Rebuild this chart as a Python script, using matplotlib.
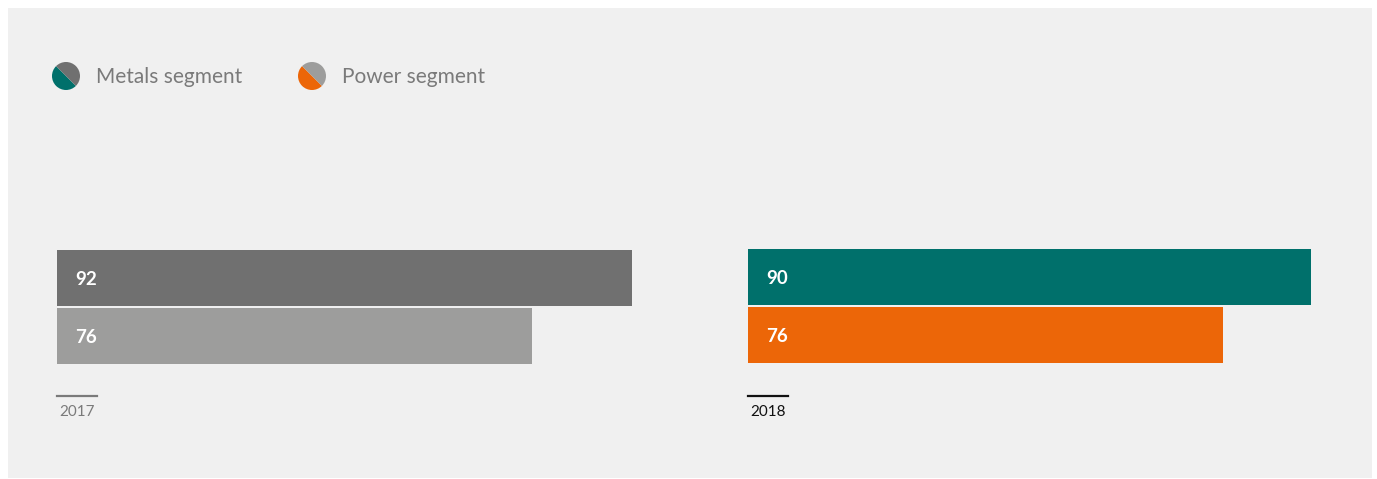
import matplotlib.pyplot as plt
from matplotlib.patches import Rectangle, Wedge
from matplotlib.lines import Line2D

# data
anos = ["2017", "2018"]
segmentos = ["Metals segment", "Power segment"]
valores_2017 = [92, 76]
valores_2018 = [90, 76]

gris_oscuro = "#707070"
gris_claro = "#9d9d9c"
verde = "#00706b"
naranja = "#ec6608"
fondo = "#f0f0f0"

W, H = 1377, 479
plt.rcParams['font.family'] = ['Lato', 'DejaVu Sans']


def fx(x):
    return x / W


def fy(y):
    return 1 - y / H


fig = plt.figure(figsize=(W / 100, H / 100), dpi=100, facecolor="white")
fig.patches.append(Rectangle((fx(8), fy(478)), fx(1364), 470 / H,
                             transform=fig.transFigure, facecolor=fondo,
                             edgecolor="none", zorder=-10))

# leyenda con circulos partidos (eje y invertido)
ley = fig.add_axes([0, 0, 1, 1])
ley.set_xlim(0, W)
ley.set_ylim(H, 0)
ley.set_aspect("equal")
ley.axis("off")
ley.patch.set_alpha(0)
leyenda = [(66, segmentos[0], verde, gris_oscuro),
           (312, segmentos[1], naranja, gris_claro)]
for cx, texto, c1, c2 in leyenda:
    ley.add_patch(Wedge((cx, 76), 14, 45, 225, facecolor=c1, edgecolor="none"))
    ley.add_patch(Wedge((cx, 76), 14, 225, 405, facecolor=c2, edgecolor="none"))
    ley.text(cx + 30, 77, texto, fontsize=15, color="#7a7a7a",
             va="center", ha="left")


def panel(izq, arriba, valores, colores, ano, color_ano):
    ax = fig.add_axes([fx(izq), fy(arriba + 190), 625 / W, 190 / H])
    ax.barh([0, 1], valores, height=56 / 58, color=colores)
    ax.set_xlim(0, 100)
    ax.set_ylim((190 - 38) / 58, -38 / 58)
    ax.axis("off")
    for i, v in enumerate(valores):
        ax.text(4.6, i + 0.03, str(v), color="white", fontsize=13.5,
                fontweight="bold", ha="center", va="center")
    fig.lines.append(Line2D([fx(izq), fx(izq + 40)], [fy(396), fy(396)],
                            transform=fig.transFigure, color=color_ano, lw=1.6))
    fig.text(fx(izq + 2), fy(412), ano, fontsize=11, color=color_ano,
             ha="left", va="center")


panel(57, 240, valores_2017, [gris_oscuro, gris_claro], anos[0], "#7a7a7a")
panel(748, 239, valores_2018, [verde, naranja], anos[1], "#111111")

fig.savefig("out.png", dpi=100, facecolor="white")
